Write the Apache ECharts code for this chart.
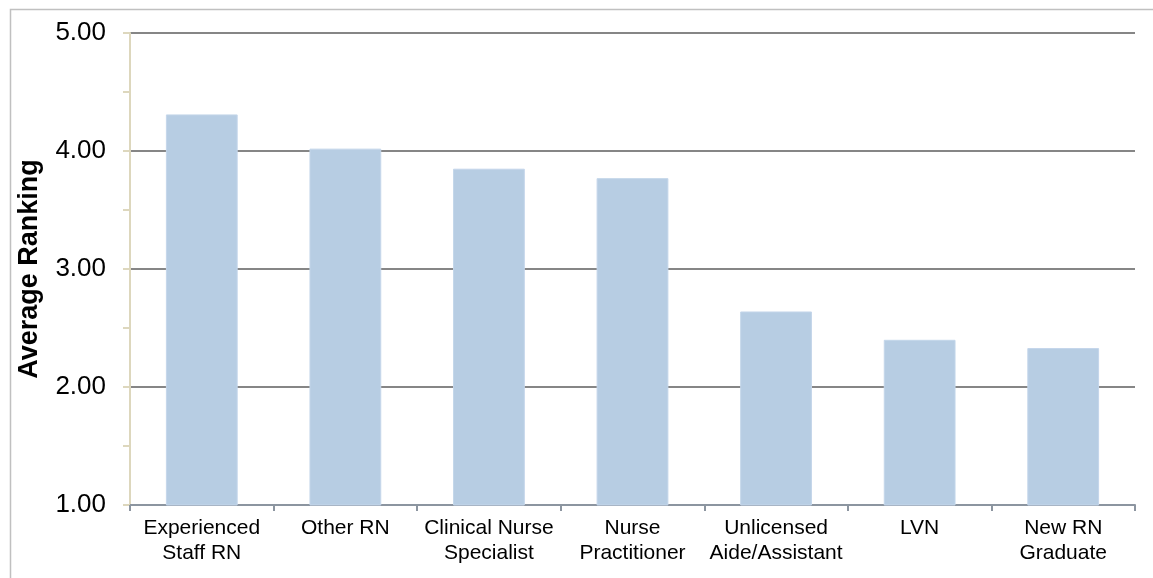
<!DOCTYPE html>
<html>
<head>
<meta charset="utf-8">
<title>Average Ranking by Position</title>
<script src="https://cdn.jsdelivr.net/npm/echarts@6/dist/echarts.min.js"></script>
<style>
  html, body { margin: 0; padding: 0; background: #ffffff; }
  #chart { width: 1153px; height: 578px; }
</style>
</head>
<body>
<div id="chart"></div>
<script>
// Positions on the category axis (two-line labels use \n)
const positions = [
  'Experienced\nStaff RN',
  'Other RN',
  'Clinical Nurse\nSpecialist',
  'Nurse\nPractitioner',
  'Unlicensed\nAide/Assistant',
  'LVN',
  'New RN\nGraduate'
];

// Average ranking for each position
const averageRanking = [4.31, 4.02, 3.85, 3.77, 2.64, 2.40, 2.33];

// Value axis range
const yMin = 1;
const yMax = 5;
const yStep = 1;

const FONT = '"Liberation Sans", Arial, sans-serif';

const chart = echarts.init(document.getElementById('chart'), null, { renderer: 'canvas' });

chart.setOption({
  backgroundColor: '#ffffff',
  animation: false,
  graphic: [
    {
      type: 'rect',
      left: 8,
      top: 7,
      shape: { width: 1300, height: 700 },
      style: { fill: 'none', stroke: '#c0c0c0', lineWidth: 1.5 },
      silent: true,
      z: -1
    }
  ],
  grid: {
    left: 130,
    right: 18,
    top: 33,
    bottom: 73,
    containLabel: false
  },
  xAxis: {
    type: 'category',
    data: positions,
    axisLine: { show: true, lineStyle: { color: '#8c95a0', width: 2 } },
    axisTick: { show: true, alignWithLabel: false, length: 6, lineStyle: { color: '#8c95a0', width: 2 } },
    axisLabel: {
      interval: 0,
      margin: 11,
      color: '#000000',
      fontFamily: FONT,
      fontSize: 21,
      lineHeight: 25
    },
    splitLine: { show: false }
  },
  yAxis: {
    type: 'value',
    min: yMin,
    max: yMax,
    interval: yStep,
    name: 'Average Ranking',
    nameLocation: 'middle',
    nameGap: 87,
    nameRotate: 90,
    nameTextStyle: {
      color: '#000000',
      fontFamily: FONT,
      fontSize: 27,
      fontWeight: 'bold'
    },
    axisLine: { show: true, lineStyle: { color: '#ddd7bd', width: 2 } },
    axisTick: { show: true, length: 7, lineStyle: { color: '#ddd7bd', width: 2 } },
    minorTick: { show: true, splitNumber: 2, length: 7, lineStyle: { color: '#ddd7bd', width: 2 } },
    axisLabel: {
      margin: 24,
      color: '#000000',
      fontFamily: FONT,
      fontSize: 26,
      formatter: function (v) { return v.toFixed(2); }
    },
    splitLine: { show: true, lineStyle: { color: '#868686', width: 2 } }
  },
  series: [
    {
      type: 'bar',
      data: averageRanking,
      barWidth: '50%',
      itemStyle: { color: '#b7cde3', borderColor: '#c4d6ea', borderWidth: 1 },
      z: 3
    }
  ]
});
</script>
</body>
</html>
